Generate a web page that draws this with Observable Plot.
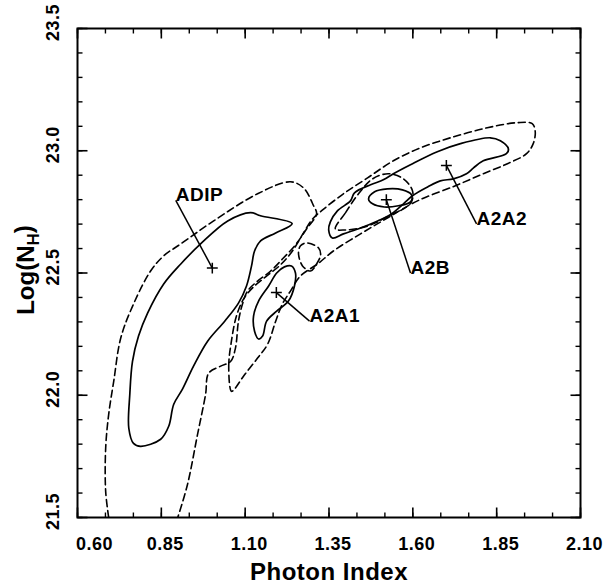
<!DOCTYPE html>
<html><head><meta charset="utf-8">
<script src="https://cdn.jsdelivr.net/npm/d3@7"></script>
<script src="https://cdn.jsdelivr.net/npm/@observablehq/plot@0.6"></script>
<style>body{margin:0;background:#fff} svg{display:block}</style>
</head><body><div id="chart"></div>
<script>
// Axis domains and ticks
const xDomain = [0.6, 2.1];
const yDomain = [21.5, 23.5];
const xMajorTicks = [0.60, 0.85, 1.10, 1.35, 1.60, 1.85, 2.10];
const yMajorTicks = [21.5, 22.0, 22.5, 23.0, 23.5];

// Best-fit points and labels
const fitNames = ["ADIP", "A2A1", "A2B", "A2A2"];
const fitGamma = [1.002, 1.193, 1.521, 1.700];
const fitLogNH = [22.52, 22.42, 22.80, 22.94];
const labelGamma = [0.893, 1.292, 1.593, 1.790];
const labelLogNH = [22.797, 22.303, 22.500, 22.701];

// Contours (solid = inner, dashed = outer confidence)
const adipSolidX = [1.116,1.146,1.240,1.191,1.146,1.128,1.119,1.104,1.080,1.039,0.988,0.946,0.913,0.887,0.872,0.848,0.788,0.767,0.753,0.756,0.764,0.782,0.809,0.857,0.908,0.967,1.048];
const adipSolidY = [22.747,22.734,22.702,22.664,22.631,22.590,22.529,22.447,22.377,22.303,22.221,22.119,22.025,21.963,21.873,21.820,21.791,21.803,21.865,22.004,22.139,22.242,22.336,22.455,22.537,22.619,22.713];

const adipDashX = [0.693,0.684,0.684,0.693,0.708,0.729,0.767,0.818,0.857,0.908,1.006,1.137,1.235,1.274,1.304,1.313,1.283,1.250,1.211,1.176,1.137,1.107,1.092,1.080,1.071,1.057,1.027,0.991,0.982,0.958,0.928,0.899];
const adipDashY = [21.50,21.607,21.783,21.922,22.057,22.234,22.373,22.508,22.570,22.619,22.713,22.824,22.873,22.848,22.775,22.742,22.680,22.615,22.557,22.508,22.467,22.426,22.373,22.303,22.193,22.139,22.119,22.090,22.004,21.840,21.635,21.50];

const a2a1SolidX = [1.194,1.217,1.238,1.250,1.247,1.229,1.194,1.164,1.152,1.140,1.128,1.125,1.140,1.170];
const a2a1SolidY = [22.500,22.525,22.529,22.500,22.447,22.385,22.344,22.303,22.242,22.230,22.262,22.324,22.385,22.447];

const a2DashX = [1.059,1.051,1.059,1.074,1.095,1.122,1.161,1.205,1.241,1.274,1.301,1.331,1.393,1.465,1.542,1.623,1.712,1.822,1.912,1.956,1.965,1.959,1.939,1.882,1.810,1.727,1.614,1.524,1.444,1.363,1.316,1.265,1.235,1.211,1.191,1.167,1.137,1.095,1.068];
const a2DashY = [22.016,22.119,22.221,22.324,22.393,22.439,22.484,22.533,22.590,22.664,22.721,22.758,22.824,22.889,22.959,23.012,23.053,23.094,23.115,23.111,23.078,23.029,22.988,22.947,22.906,22.857,22.795,22.725,22.660,22.590,22.537,22.488,22.426,22.373,22.303,22.209,22.152,22.078,22.025];

const smallDashX = [1.283,1.319,1.325,1.313,1.295,1.271,1.259,1.265];
const smallDashY = [22.623,22.602,22.574,22.537,22.508,22.529,22.582,22.611];

const a2bSolidX = [1.468,1.486,1.524,1.569,1.596,1.593,1.557,1.515,1.480];
const a2bSolidY = [22.803,22.832,22.844,22.840,22.820,22.791,22.775,22.770,22.783];

const a2bDashX = [1.369,1.399,1.438,1.480,1.527,1.572,1.599,1.596,1.572,1.533,1.489,1.444,1.399];
const a2bDashY = [22.680,22.746,22.824,22.885,22.906,22.885,22.836,22.791,22.762,22.738,22.705,22.684,22.676];

const a2a2SolidX = [1.354,1.375,1.414,1.426,1.474,1.512,1.542,1.593,1.673,1.742,1.831,1.861,1.885,1.879,1.810,1.781,1.760,1.721,1.682,1.644,1.599,1.572,1.533,1.495,1.444,1.393,1.360,1.349];
const a2a2SolidY = [22.709,22.754,22.795,22.828,22.861,22.881,22.906,22.943,22.996,23.029,23.053,23.041,23.008,22.988,22.959,22.930,22.906,22.885,22.877,22.852,22.816,22.783,22.738,22.713,22.684,22.660,22.643,22.676];

function rows(id, xs, ys) {
  const n = Math.min(xs.length, ys.length);
  return d3.range(n).map(i => ({id, x: xs[i], y: ys[i]}));
}
const solidClosed = [
  ...rows("adip", adipSolidX, adipSolidY),
  ...rows("a2a1", a2a1SolidX, a2a1SolidY),
  ...rows("a2b", a2bSolidX, a2bSolidY),
  ...rows("a2a2", a2a2SolidX, a2a2SolidY)
];
const dashedClosed = [
  ...rows("a2", a2DashX, a2DashY),
  ...rows("small", smallDashX, smallDashY),
  ...rows("a2b", a2bDashX, a2bDashY)
];
const dashedOpen = rows("adip", adipDashX, adipDashY);

const fits = fitNames.map((name, i) => ({name, bx: fitGamma[i], by: fitLogNH[i], lx: labelGamma[i], ly: labelLogNH[i]}));

const xMinor = d3.range(0, 19).map(i => xDomain[0] + i / 12);
const yMinor = d3.range(0, 21).map(i => yDomain[0] + i / 10);

const W = 603, Hh = 586, mL = 77, mR = 23, mT = 28, mB = 69;
const iW = W - mL - mR, iH = Hh - mT - mB;
// tick lengths converted from pixels to data units
const xPerPx = (xDomain[1] - xDomain[0]) / iW;
const yPerPx = (yDomain[1] - yDomain[0]) / iH;
const font = "'Liberation Sans', Arial, Helvetica, sans-serif";
const dash = "7,4";

function xTicks(vals, lenPx, sw) {
  return [
    Plot.link(vals, {x1: d => d, x2: d => d, y1: () => yDomain[0], y2: () => yDomain[0] + lenPx * yPerPx, stroke: "black", strokeWidth: sw}),
    Plot.link(vals, {x1: d => d, x2: d => d, y1: () => yDomain[1], y2: () => yDomain[1] - lenPx * yPerPx, stroke: "black", strokeWidth: sw})
  ];
}
function yTicks(vals, lenPx, sw) {
  return [
    Plot.link(vals, {y1: d => d, y2: d => d, x1: () => xDomain[0], x2: () => xDomain[0] + lenPx * xPerPx, stroke: "black", strokeWidth: sw}),
    Plot.link(vals, {y1: d => d, y2: d => d, x1: () => xDomain[1], x2: () => xDomain[1] - lenPx * xPerPx, stroke: "black", strokeWidth: sw})
  ];
}

const plot = Plot.plot({
  width: W, height: Hh,
  marginLeft: mL, marginRight: mR, marginTop: mT, marginBottom: mB,
  x: {domain: xDomain, axis: null},
  y: {domain: yDomain, axis: null},
  style: {fontFamily: font, fontWeight: "bold", background: "white", color: "black"},
  marks: [
    // contours
    Plot.line(solidClosed, {x: "x", y: "y", z: "id", curve: "catmull-rom-closed", stroke: "black", strokeWidth: 1.7, clip: true}),
    Plot.line(dashedClosed, {x: "x", y: "y", z: "id", curve: "catmull-rom-closed", stroke: "black", strokeWidth: 1.6, strokeDasharray: dash, clip: true}),
    Plot.line(dashedOpen, {x: "x", y: "y", z: "id", curve: "catmull-rom", stroke: "black", strokeWidth: 1.6, strokeDasharray: dash, clip: true}),
    // best fits, leaders and labels
    Plot.link(fits, {x1: "lx", y1: "ly", x2: "bx", y2: "by", stroke: "black", strokeWidth: 1.5}),
    Plot.dot(fits, {x: "bx", y: "by", symbol: "plus", r: 3.6, stroke: "black", strokeWidth: 1.5}),
    Plot.text(fits, {x: "lx", y: "ly", text: "name", textAnchor: "start", lineAnchor: "bottom", dy: 1, fontSize: 19, fontWeight: "bold"}),
    // tick labels
    Plot.text(xMajorTicks.slice(0, 1), {x: d => d, text: d => d.toFixed(2), frameAnchor: "bottom", lineAnchor: "bottom", dy: 32, dx: 17, fontSize: 18, fontWeight: "bold"}),
    Plot.text(xMajorTicks.slice(1), {x: d => d, text: d => d.toFixed(2), frameAnchor: "bottom", lineAnchor: "bottom", dy: 32, dx: 4, fontSize: 18, fontWeight: "bold"}),
    Plot.text(yMajorTicks, {y: d => d, text: d => d.toFixed(1), frameAnchor: "left", rotate: -90, textAnchor: "middle", lineAnchor: "bottom", dx: -19, dy: -6, fontSize: 18, fontWeight: "bold"}),
    Plot.text(["Photon Index"], {frameAnchor: "bottom", lineAnchor: "bottom", dy: 62, fontSize: 24, fontWeight: "bold"}),
    Plot.frame({stroke: "black", strokeWidth: 2}),
    // inward ticks on all four sides
    ...xTicks(xMinor, 5, 1.4),
    ...xTicks(xMajorTicks, 10, 1.6),
    ...yTicks(yMinor, 5, 1.4),
    ...yTicks(yMajorTicks, 10, 1.6)
  ]
});

const svg = d3.select(plot);
svg.selectAll("text").style("letter-spacing", "0.5px");
const ylab = svg.append("text")
  .attr("transform", "translate(34,270) rotate(-90)")
  .attr("text-anchor", "middle")
  .attr("font-size", 24)
  .attr("font-weight", "bold")
  .attr("font-family", font)
  .attr("fill", "black");
ylab.append("tspan").text("Log(N");
ylab.append("tspan").attr("dy", "0.3em").attr("font-size", 17).text("H");
ylab.append("tspan").attr("dy", "-0.3em").text(")");

document.getElementById("chart").appendChild(plot);
</script>
</body></html>
